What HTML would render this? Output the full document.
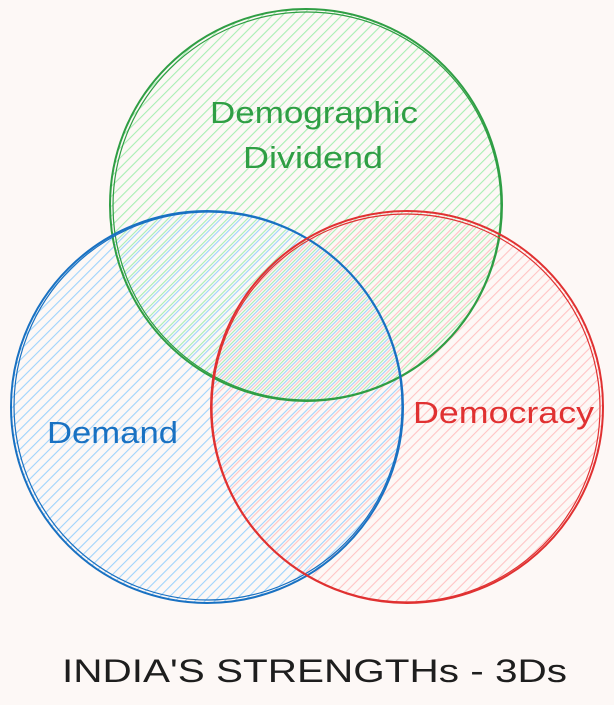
<!DOCTYPE html>
<html><head><meta charset="utf-8"><style>
html,body{margin:0;padding:0;background:#fdf8f6;}
svg{display:block}
text{font-family:"Liberation Sans",sans-serif;}
</style></head><body>
<svg width="614" height="705" viewBox="0 0 614 705" xmlns="http://www.w3.org/2000/svg">
<defs>
<pattern id="pg" width="7" height="7" patternUnits="userSpaceOnUse" patternTransform="rotate(45)"><line x1="0" y1="0" x2="0" y2="7" stroke="#a8eeb3" stroke-width="2.2"/></pattern>
<pattern id="pb" width="7" height="7" patternUnits="userSpaceOnUse" patternTransform="rotate(45) translate(2.3,0)"><line x1="0" y1="0" x2="0" y2="7" stroke="#9fd3fc" stroke-width="2.2"/></pattern>
<pattern id="pr" width="7" height="7" patternUnits="userSpaceOnUse" patternTransform="rotate(45) translate(4.6,0)"><line x1="0" y1="0" x2="0" y2="7" stroke="#ffc4c4" stroke-width="2.2"/></pattern>
</defs>
<rect width="614" height="705" fill="#fdf8f6"/>
<circle cx="306" cy="205" r="196" fill="url(#pg)"/>
<circle cx="207" cy="407" r="196" fill="url(#pb)"/>
<circle cx="407" cy="407" r="196" fill="url(#pr)"/>
<circle cx="306" cy="205" r="196" fill="none" stroke="#2f9e44" stroke-width="2"/>
<circle cx="307" cy="206" r="194" fill="none" stroke="#2f9e44" stroke-width="1.2"/>
<circle cx="207" cy="407" r="196" fill="none" stroke="#1971c2" stroke-width="2"/>
<circle cx="208" cy="406" r="194" fill="none" stroke="#1971c2" stroke-width="1.2"/>
<circle cx="407" cy="407" r="196" fill="none" stroke="#e03131" stroke-width="2"/>
<circle cx="406" cy="408" r="194" fill="none" stroke="#e03131" stroke-width="1.2"/>
<text x="210" y="123" font-size="31" fill="#2f9e44" textLength="208" lengthAdjust="spacingAndGlyphs">Demographic</text>
<text x="243" y="168" font-size="31" fill="#2f9e44" textLength="140" lengthAdjust="spacingAndGlyphs">Dividend</text>
<text x="47" y="443" font-size="31" fill="#1971c2" textLength="131" lengthAdjust="spacingAndGlyphs">Demand</text>
<text x="413" y="423" font-size="31" fill="#e03131" textLength="181" lengthAdjust="spacingAndGlyphs">Democracy</text>
<text x="62" y="682" font-size="32" fill="#1e1e1e" textLength="505" lengthAdjust="spacingAndGlyphs">INDIA'S STRENGTHs - 3Ds</text>
</svg>
</body></html>
